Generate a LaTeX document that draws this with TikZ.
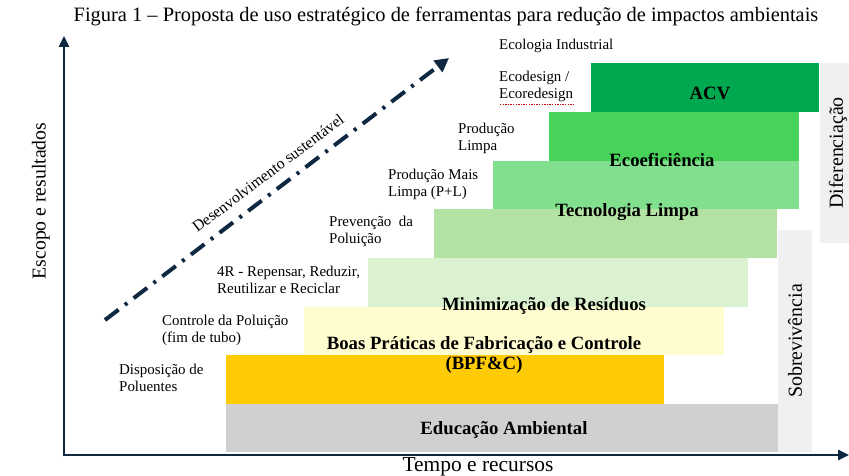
\documentclass[tikz,border=0pt]{standalone}
\usepackage{fontspec}
\setmainfont{Liberation Serif}
\usetikzlibrary{arrows.meta}
\definecolor{navy}{HTML}{0E2841}
\definecolor{cACV}{HTML}{00A84F}
\definecolor{cEco}{HTML}{47D35A}
\definecolor{cPL}{HTML}{80E08E}
\definecolor{cPrev}{HTML}{B3E3A3}
\definecolor{cFourR}{HTML}{DAF2D0}
\definecolor{cCtrl}{HTML}{FFFDD0}
\definecolor{cDisp}{HTML}{FFCB05}
\definecolor{cEdu}{HTML}{D0D0D0}
\definecolor{cSide}{HTML}{F0F0F0}
\tikzset{
  bar/.style={anchor=north west, inner sep=0pt, outer sep=0pt, draw=none},
  bartext/.style={font=\fontsize{18.8}{21}\selectfont\bfseries, inner sep=0pt},
  lbl/.style={font=\fontsize{15}{17}\selectfont, align=left, anchor=north west, inner sep=0pt},
  sidetext/.style={font=\fontsize{20}{22}\selectfont, rotate=90, inner sep=0pt},
  axis/.style={navy, line width=2.6bp, -{Triangle[length=11bp,width=10bp]}},
}
\begin{document}
\begin{tikzpicture}[x=1bp,y=-1bp]
\useasboundingbox (0,0) rectangle (849,476);
% side bars
\node[bar, fill=cSide, minimum width=34bp, minimum height=222bp] (sob) at (778,230) {};
\node[bar, fill=cSide, minimum width=29bp, minimum height=180bp] (dif) at (820,63) {};
% bars
\node[bar, fill=cEdu,   minimum width=552bp, minimum height=48bp] (edu)  at (226,404) {};
\node[bar, fill=cDisp,  minimum width=438bp, minimum height=49bp] (disp) at (226,355) {};
\node[bar, fill=cCtrl,  minimum width=420bp, minimum height=48bp] (ctrl) at (304,307) {};
\node[bar, fill=cFourR, minimum width=380bp, minimum height=49bp] (fr)   at (368,258) {};
\node[bar, fill=cPrev,  minimum width=343bp, minimum height=49bp] (prev) at (434,209) {};
\node[bar, fill=cPL,    minimum width=306bp, minimum height=48bp] (pl)   at (493,161) {};
\node[bar, fill=cEco,   minimum width=250bp, minimum height=49bp] (eco)  at (549,112) {};
\node[bar, fill=cACV,   minimum width=228bp, minimum height=49bp] (acv)  at (591,63) {};
% bar texts
\node[bartext] (tacv) at (710,93) {ACV};
\node[bartext] (teco) at (662,160) {Ecoeficiência};
\node[bartext] (tpl) at (627,212) {Tecnologia Limpa};
\node[bartext] (tmin) at (544,306) {Minimização de Resíduos};
\node[bartext, align=center, font=\fontsize{18.8}{21}\selectfont\bfseries] (tbpf) at (484,355) {Boas Práticas de Fabricação e Controle\\(BPF\&C)};
\node[bartext] (tedu) at (504,430) {Educação Ambiental};
% side texts
\node[sidetext] (tsob) at (795,341) {Sobrevivência};
\node[sidetext] (tdif) at (838,153) {Diferenciação};
% left labels
\node[lbl] (l1) at (499,39) {Ecologia Industrial};
\node[lbl] (l2) at (499,71) {Ecodesign /\\Ecoredesign};
\node[lbl] (l3) at (458,123) {Produção\\Limpa};
\node[lbl] (l4) at (388,169) {Produção Mais\\Limpa (P+L)};
\node[lbl] (l5) at (329,216) {Prevenção\ \ da\\Poluição};
\node[lbl] (l6) at (217,266) {4R - Repensar, Reduzir,\\Reutilizar e Reciclar};
\node[lbl] (l7) at (162,315) {Controle da Poluição\\(fim de tubo)};
\node[lbl] (l8) at (119,364) {Disposição de\\Poluentes};
\draw[red!85!black, line width=0.9bp, dash pattern=on 1.3bp off 1.3bp] (500,104) -- (575,104);
% axes
\coordinate (o) at (64,455);
\coordinate (ytop) at (64,36);
\coordinate (xend) at (849,455);
\draw[axis] (64,456.3) -- (ytop);
\draw[axis] (o) -- (xend);
% title and axis labels
\node[font=\fontsize{20.5}{22}\selectfont, inner sep=0pt] (title) at (446,17) {Figura 1 – Proposta de uso estratégico de ferramentas para redução de impactos ambientais};
\node[font=\fontsize{19.8}{21}\selectfont, rotate=90, inner sep=0pt] (ylab) at (41,201) {Escopo e resultados};
\node[font=\fontsize{21.5}{23}\selectfont, inner sep=0pt] (xlab) at (478,467) {Tempo e recursos};
% sustainable development arrow
\coordinate (ds0) at (105,320);
\coordinate (ds1) at (449,58);
\draw[navy, line width=4bp, dash pattern=on 17bp off 8bp on 3bp off 8bp, -{Triangle[length=14bp,width=14bp]}] (ds0) -- (ds1);
\node[font=\fontsize{15.8}{17}\selectfont, rotate=37, inner sep=0pt] (dstext) at (268,173) {Desenvolvimento sustentável};
\end{tikzpicture}
\end{document}
